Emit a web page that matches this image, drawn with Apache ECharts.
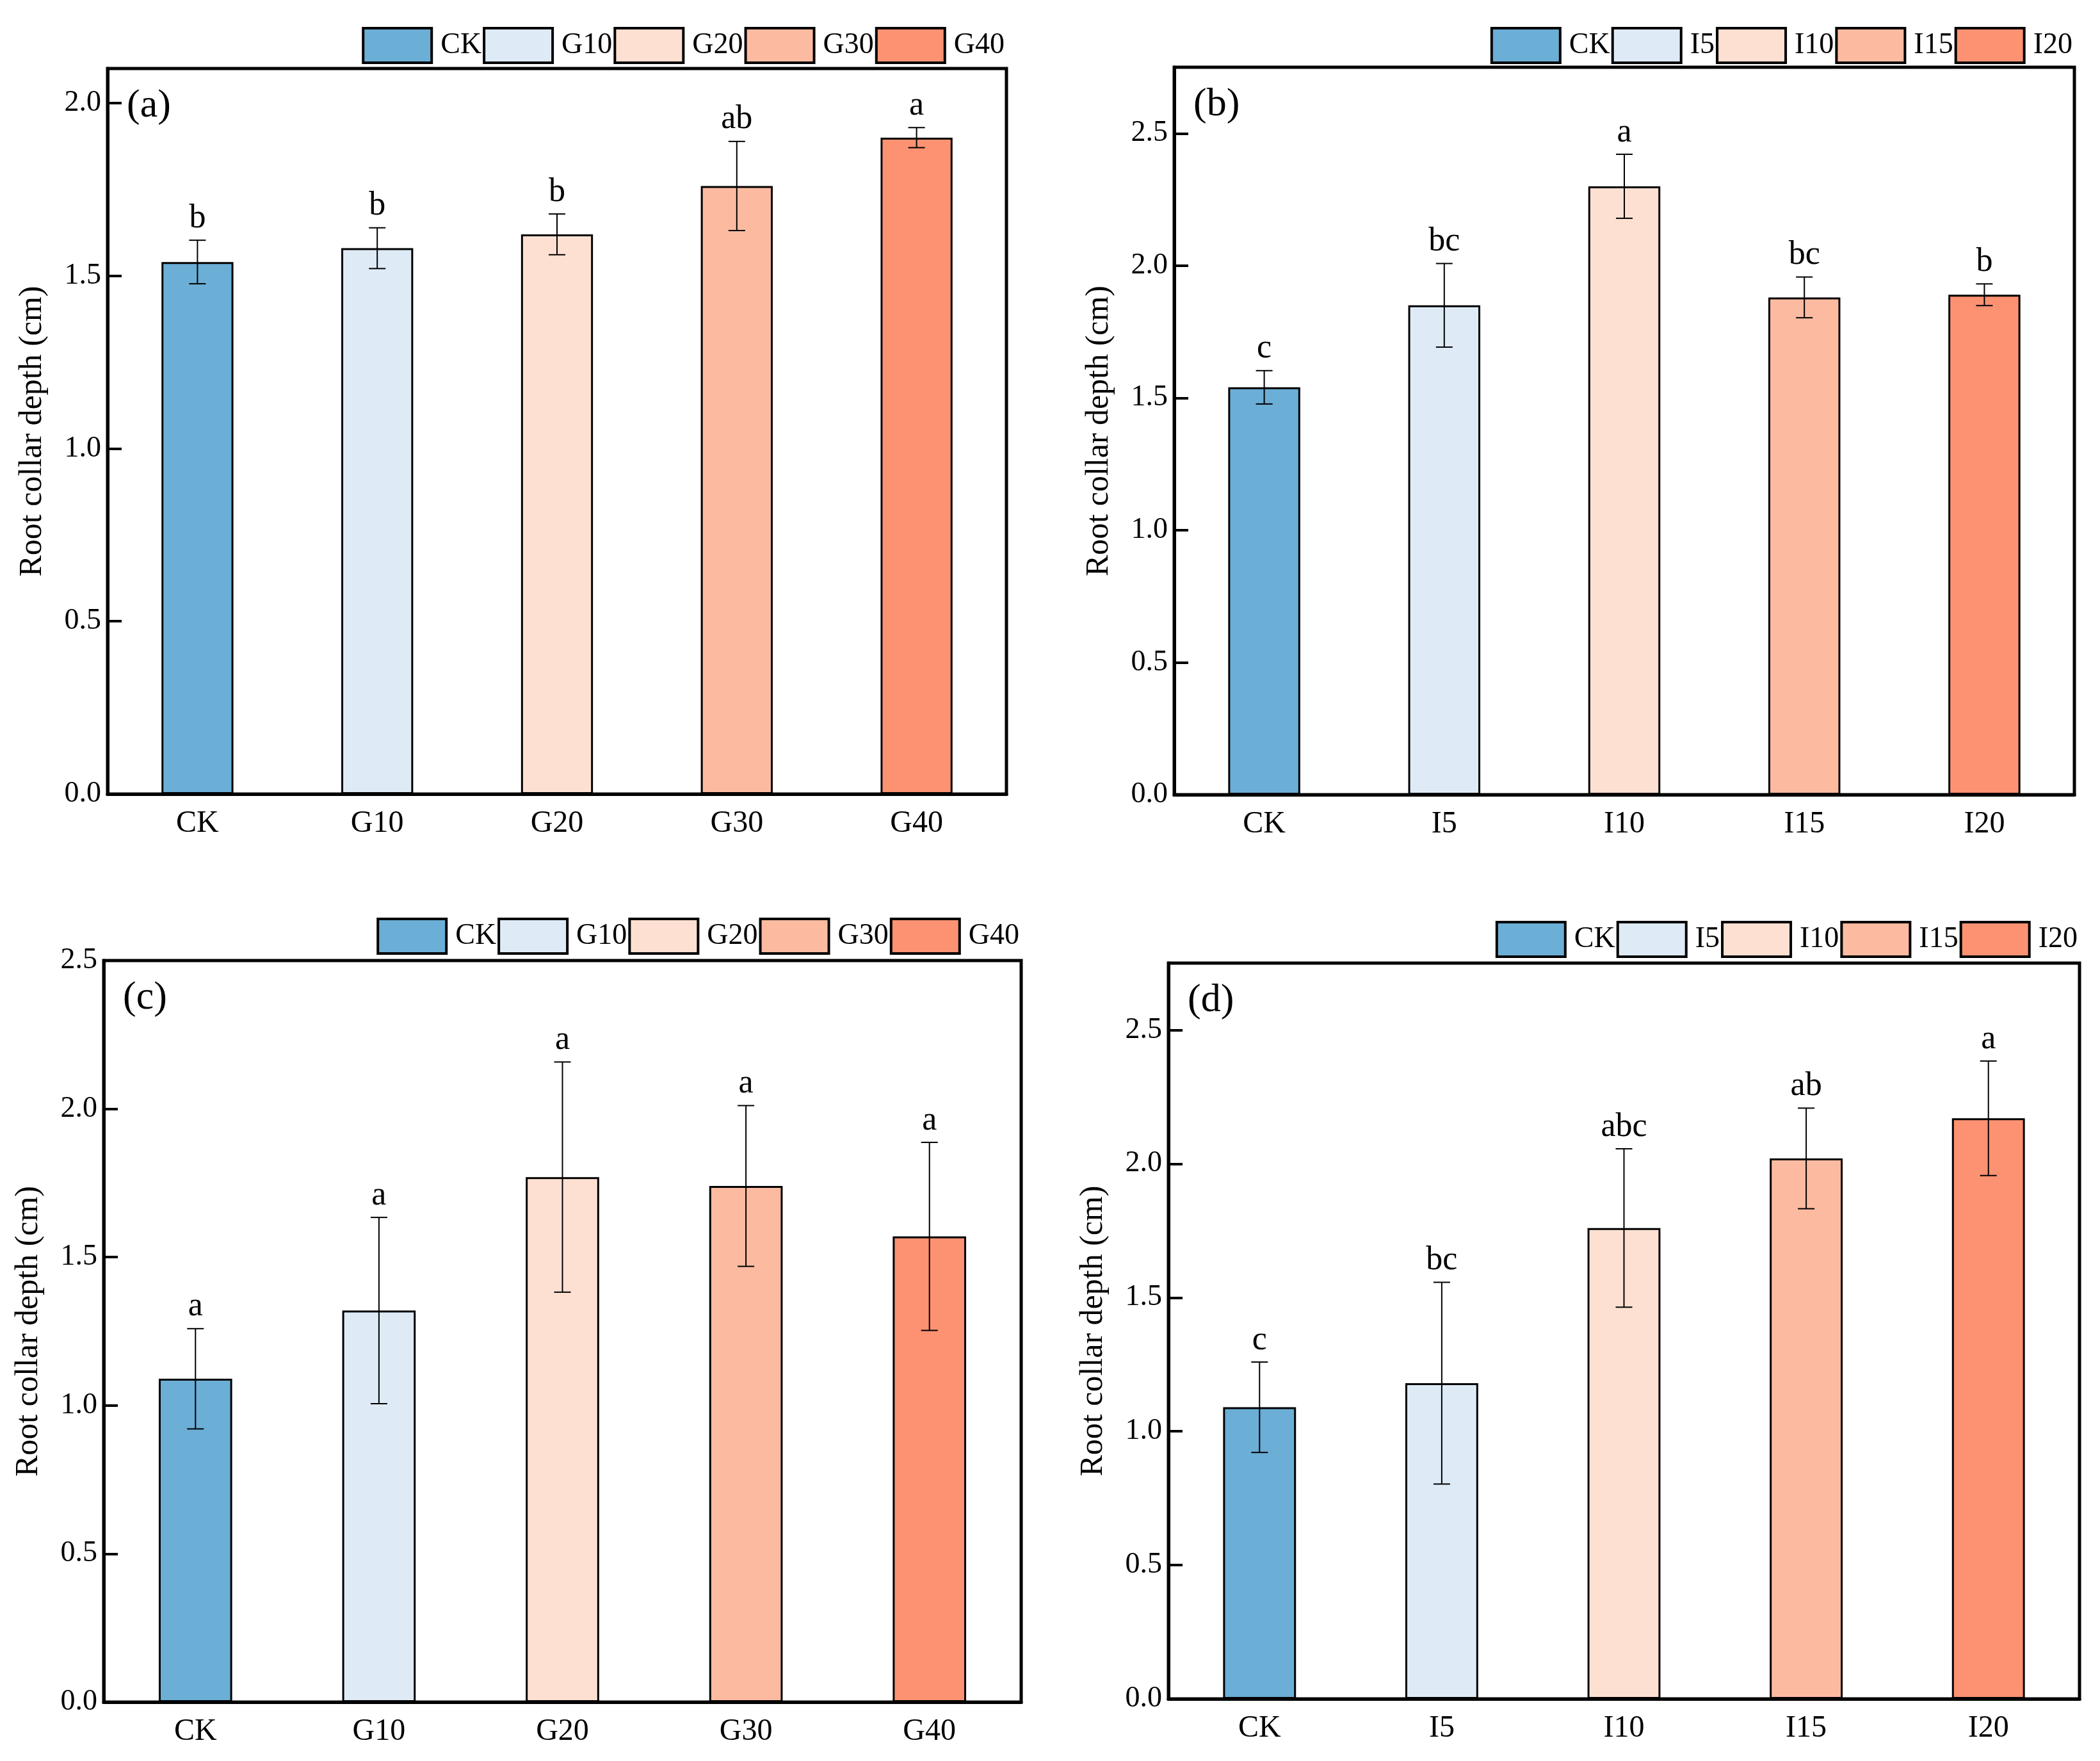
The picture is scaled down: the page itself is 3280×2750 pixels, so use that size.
<!DOCTYPE html>
<html>
<head>
<meta charset="utf-8">
<script src="https://cdn.jsdelivr.net/npm/echarts@6/dist/echarts.min.js"></script>
<style>
  html, body { margin: 0; padding: 0; background: #fff; }
  #wrap { position: relative; width: 3280px; height: 2750px; }
  .panel { position: absolute; width: 1640px; height: 1375px; }
</style>
</head>
<body>
<div id="wrap">
  <div class="panel" id="pa" style="left:0;top:0"></div>
  <div class="panel" id="pb" style="left:1640px;top:0"></div>
  <div class="panel" id="pc" style="left:0;top:1375px"></div>
  <div class="panel" id="pd" style="left:1640px;top:1375px"></div>
</div>
<script>
// categories
const catsG = ['CK', 'G10', 'G20', 'G30', 'G40'];
const catsI = ['CK', 'I5', 'I10', 'I15', 'I20'];

// panel (a)
const meanA = [1.54, 1.58, 1.62, 1.76, 1.90];
const errA = [0.063, 0.059, 0.059, 0.129, 0.029];
const letA = ['b', 'b', 'b', 'ab', 'a'];

// panel (b)
const meanB = [1.54, 1.85, 2.30, 1.88, 1.89];
const errB = [0.063, 0.158, 0.121, 0.077, 0.041];
const letB = ['c', 'bc', 'a', 'bc', 'b'];

// panel (c)
const meanC = [1.09, 1.32, 1.77, 1.74, 1.57];
const errC = [0.169, 0.314, 0.388, 0.271, 0.317];
const letC = ['a', 'a', 'a', 'a', 'a'];

// panel (d)
const meanD = [1.09, 1.18, 1.76, 2.02, 2.17];
const errD = [0.169, 0.377, 0.296, 0.188, 0.214];
const letD = ['c', 'bc', 'abc', 'ab', 'a'];

const colors = ['#6baed6', '#deebf7', '#fee0d2', '#fcbba1', '#fc9272'];
const FONT = '"Liberation Serif", "Times New Roman", serif';

function build(el, tag, cats, means, errs, letters, yMax, grid, legendTop) {
  const chart = echarts.init(document.getElementById(el), null, { renderer: 'canvas' });

  // one series per treatment so the legend gets a coloured box for each
  const bars = cats.map((name, i) => ({
    name: name,
    type: 'bar',
    barWidth: '40%',
    barGap: '-100%',
    data: cats.map((c, j) => (j === i ? means[j] : '-')),
    itemStyle: { color: colors[i], borderColor: '#000', borderWidth: 3 },
    z: 2
  }));

  const errSeries = {
    type: 'custom',
    z: 5,
    data: means.map((m, i) => [i, m, errs[i]]),
    renderItem: function (params, api) {
      const x = api.value(0), m = api.value(1), e = api.value(2);
      const top = api.coord([x, m + e]);
      const bot = api.coord([x, m - e]);
      const cap = 13;
      const ls = { stroke: '#000', lineWidth: 2 };
      return {
        type: 'group',
        children: [
          { type: 'line', shape: { x1: top[0], y1: top[1], x2: bot[0], y2: bot[1] }, style: ls },
          { type: 'line', shape: { x1: top[0] - cap, y1: top[1], x2: top[0] + cap, y2: top[1] }, style: ls },
          { type: 'line', shape: { x1: bot[0] - cap, y1: bot[1], x2: bot[0] + cap, y2: bot[1] }, style: ls },
          {
            type: 'text',
            style: {
              text: letters[params.dataIndex],
              x: top[0], y: top[1] - 8,
              align: 'center', verticalAlign: 'bottom',
              fill: '#000', fontSize: 52, fontFamily: FONT
            }
          }
        ]
      };
    }
  };

  chart.setOption({
    backgroundColor: '#fff',
    animation: false,
    textStyle: { fontFamily: FONT, color: '#000' },
    legend: {
      data: cats,
      right: grid.right - 2,
      top: legendTop,
      itemWidth: 107,
      itemHeight: 54,
      itemGap: 2,
      icon: 'rect',
      itemStyle: { borderColor: '#000', borderWidth: 4 },
      textStyle: { fontSize: 46, fontFamily: FONT, color: '#000', padding: [0, 0, 0, 9] }
    },
    grid: {
      left: grid.left, right: grid.right, top: grid.top, bottom: grid.bottom,
      show: true, borderColor: '#000', borderWidth: 5
    },
    graphic: [{
      type: 'text',
      left: grid.left + 30,
      top: grid.top + 28,
      style: { text: tag, fontSize: 62, fontFamily: FONT, fill: '#000' }
    }],
    xAxis: {
      type: 'category',
      data: cats,
      axisLine: { lineStyle: { color: '#000', width: 5 } },
      axisTick: { show: false },
      axisLabel: { fontSize: 48, fontFamily: FONT, color: '#000', margin: 22 }
    },
    yAxis: {
      type: 'value',
      min: 0,
      max: yMax,
      interval: 0.5,
      name: 'Root collar depth (cm)',
      nameLocation: 'middle',
      nameGap: 92,
      nameTextStyle: { fontSize: 50, fontFamily: FONT, color: '#000' },
      axisLine: { show: true, lineStyle: { color: '#000', width: 5 } },
      axisTick: { show: true, inside: true, length: 22, lineStyle: { color: '#000', width: 4 } },
      axisLabel: {
        fontSize: 46, fontFamily: FONT, color: '#000', margin: 10,
        showMaxLabel: yMax === 2.5,
        formatter: v => v.toFixed(1)
      },
      splitLine: { show: false }
    },
    series: bars.concat([errSeries])
  });
  return chart;
}

build('pa', '(a)', catsG, meanA, errA, letA, 2.1, { left: 168, right: 68, top: 107, bottom: 135 }, 37);
build('pb', '(b)', catsI, meanB, errB, letB, 2.75, { left: 194, right: 40, top: 105, bottom: 134 }, 37);
build('pc', '(c)', catsG, meanC, errC, letC, 2.5, { left: 162, right: 45, top: 125, bottom: 92 }, 53);
build('pd', '(d)', catsI, meanD, errD, letD, 2.75, { left: 185, right: 32, top: 129, bottom: 97 }, 58);
</script>
</body>
</html>
